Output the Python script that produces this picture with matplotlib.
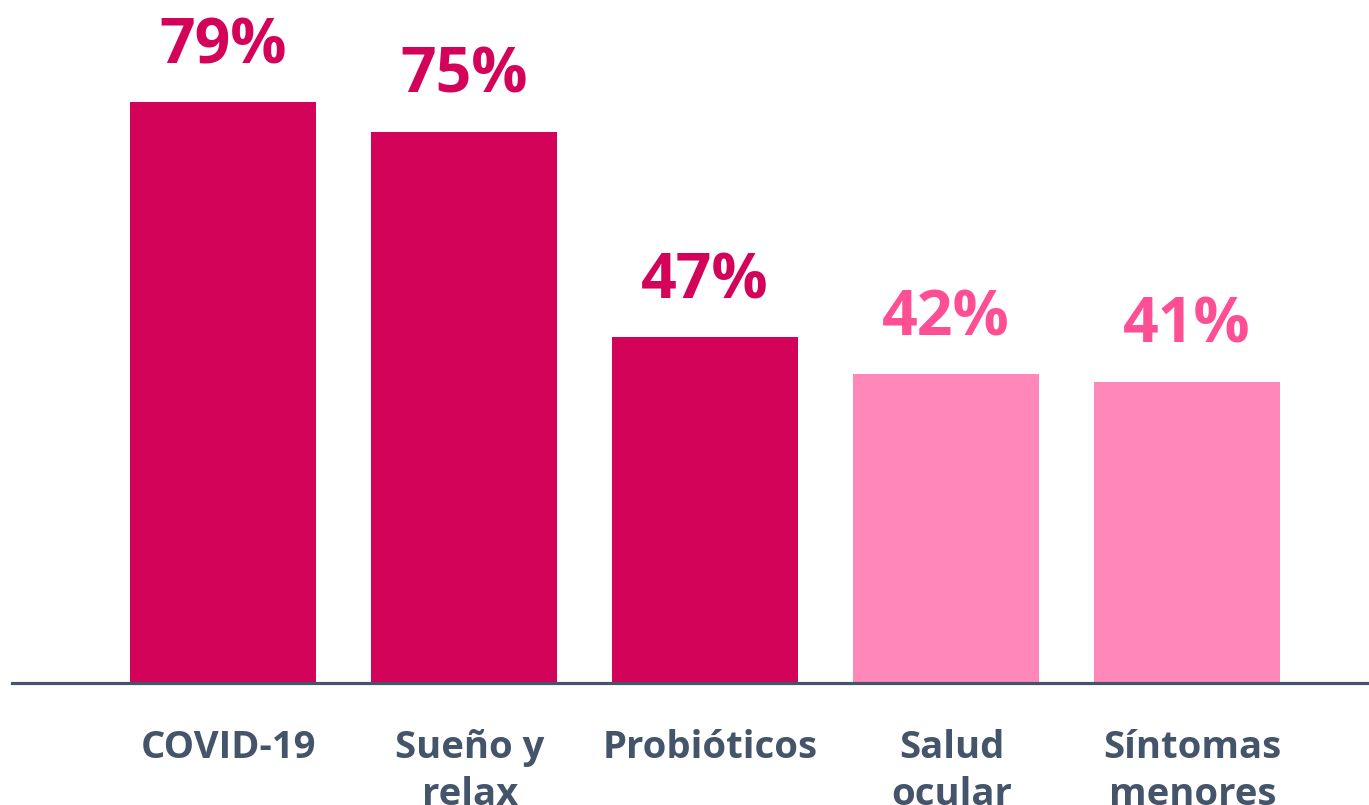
import matplotlib.pyplot as plt

# Data
categories = ["COVID-19", "Sueño y\nrelax", "Probióticos", "Salud\nocular", "Síntomas\nmenores"]
values = [79, 75, 47, 42, 41]
value_labels = ["79%", "75%", "47%", "42%", "41%"]
highlight = [True, True, True, False, False]

dark_bar = "#d4035a"
light_bar = "#ff88b8"
light_text = "#ff4f94"
axis_color = "#44546a"

plt.rcParams["font.family"] = ["Open Sans", "DejaVu Sans"]

fig = plt.figure(figsize=(13.69, 8.05), dpi=100)
ax = fig.add_axes([12 / 1369, 122 / 805, 1 - 12 / 1369, 683 / 805])

x = list(range(len(categories)))
bar_colors = [dark_bar if h else light_bar for h in highlight]
text_colors = [dark_bar if h else light_text for h in highlight]

ax.bar(x, values, width=0.77, color=bar_colors, zorder=1)

# percentage labels above the bars
for i, (v, lab, c) in enumerate(zip(values, value_labels, text_colors)):
    ax.annotate(lab, xy=(i, v), xytext=(0, 28), textcoords="offset points",
                ha="center", va="baseline", fontsize=45, fontweight="bold", color=c)

# category labels under the baseline
for i, cat in enumerate(categories):
    ax.annotate(cat, xy=(i, 0), xytext=(4, -33), textcoords="offset points",
                ha="center", va="top", fontsize=27.5, fontweight="bold",
                color=axis_color, linespacing=1.32, annotation_clip=False)

ax.set_xlim(-0.876, 4.755)
ax.set_ylim(0, 92.9)
ax.axhline(0, color=axis_color, linewidth=2.3, zorder=2, clip_on=False)
for s in ax.spines.values():
    s.set_visible(False)
ax.set_xticks([])
ax.set_yticks([])

fig.savefig("out.png", dpi=100)
